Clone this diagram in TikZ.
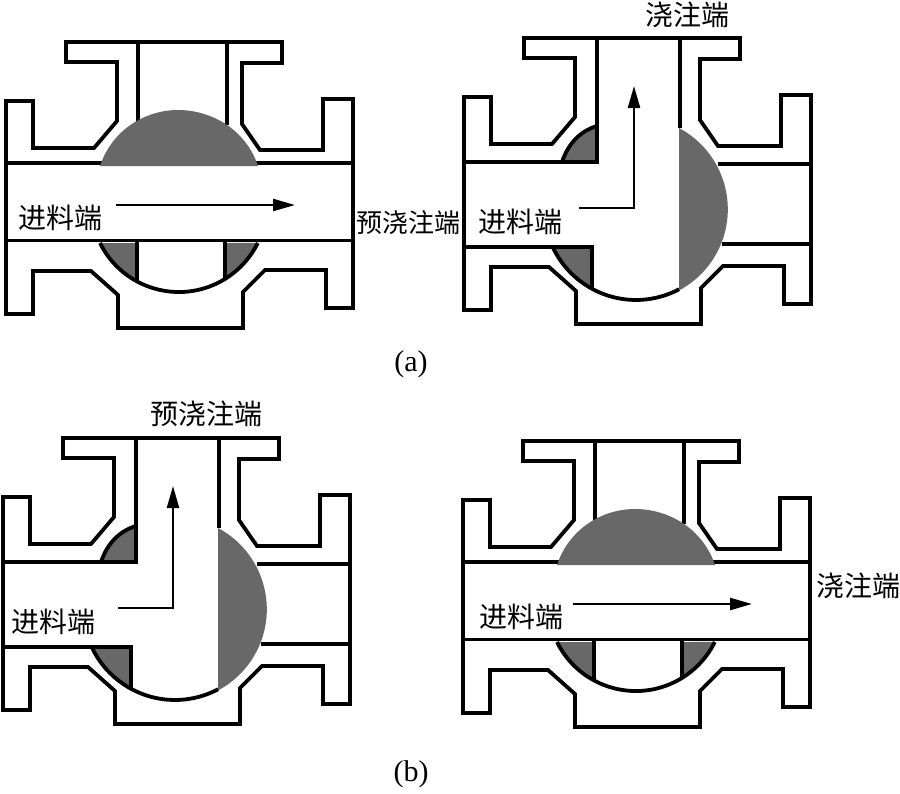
\documentclass[tikz,border=0pt]{standalone}
\usepackage{fontspec}
\setmainfont{Liberation Serif}
\newfontfamily\cjk{Noto Sans CJK SC}
\usetikzlibrary{arrows.meta}
\definecolor{ballgray}{HTML}{686868}

\newcommand{\valvebody}{
\draw[mainline] (66,42) -- (282,42) -- (282,63) -- (242,63) -- (242,124) -- (260,150) -- (323,150) -- (323,99) -- (353,99)
 -- (353,308) -- (326,308) -- (326,270) -- (265,270) -- (243,292) -- (243,328) -- (118,328) -- (118,295) -- (91,271)
 -- (33,271) -- (33,314) -- (6,314) -- (6,101) -- (33,101) -- (33,148) -- (94,148) -- (117,121) -- (117,62) -- (66,62) -- cycle;
}
\newcommand{\valvethrough}{
\fill[ballfill] (100,243) arc[start angle=153.7, end angle=118.5, radius=88] -- (137,243) -- cycle;
\fill[ballfill] (225,243) -- (225,279) arc[start angle=58.5, end angle=26.3, radius=88] -- cycle;
\draw[thinline] (138,42) -- (138,125);
\draw[thinline] (227,42) -- (227,125);
\draw[mainline] (6,163) -- (353,163);
\draw[mainline] (6,240.5) -- (353,240.5);
\draw[thinline] (137,240) -- (137,281);
\draw[thinline] (225,240) -- (225,279);
\draw[mainline] (100,243) arc[start angle=153.7, end angle=26.3, radius=88];
\fill[ballfill] (100,166) .. controls (112,130) and (145,110) .. (178,110) .. controls (212,110) and (246,130) .. (258,166) -- cycle;
\coordinate (flowstart) at (116,205);
\coordinate (flowend) at (295,205);
\draw[flowline] (flowstart) -- (flowend);
}
\newcommand{\valveturn}{
\fill[ballfill] (104,166) .. controls (110,148) and (122,135) .. (137,130) -- (137,166) -- cycle;
\fill[ballfill] (95.3,252.3) arc[start angle=154, end angle=118, radius=92] -- (134,251) -- cycle;
\draw[thinline] (222,42) -- (222,132);
\draw[thinline] (260,168) -- (353,168);
\draw[thinline] (264,248) -- (353,248);
\draw[mainline] (139,42) -- (139,166) -- (6,166);
\draw[mainline] (6,251) -- (134,251) -- (134,292);
\draw[mainline] (104,166) .. controls (110,148) and (122,135) .. (139,130);
\draw[mainline] (95.3,252.3) arc[start angle=154, end angle=62, radius=92];
\fill[ballfill] (221,132) arc[start angle=-62, end angle=62, radius=92] -- cycle;
\coordinate (flowstart) at (121,212);
\coordinate (flowcorner) at (176,212);
\coordinate (flowend) at (176,90);
\draw[flowline] (flowstart) -- (flowcorner) -- (flowend);
}

\begin{document}
\begin{tikzpicture}[
    x=1pt, y=-1pt,
    mainline/.style={draw=black, line width=3.8pt, miter limit=10},
    thinline/.style={draw=black, line width=3.2pt},
    flowline/.style={draw=black, line width=2.4pt, -{Triangle[length=22pt,width=12pt]}},
    ballfill/.style={fill=ballgray},
    portlabel/.style={inner sep=0pt, font=\fontsize{28}{28}\selectfont\cjk},
    smalllabel/.style={inner sep=0pt, font=\fontsize{26}{26}\selectfont\cjk},
    captionlabel/.style={inner sep=0pt, font=\fontsize{30}{30}\selectfont}
]
\useasboundingbox (0,0) rectangle (900,793);

\begin{scope}
\valvebody
\valvethrough
\end{scope}
\begin{scope}[shift={(458,-4)}]
\valvebody
\valveturn
\end{scope}
\begin{scope}[shift={(-3,396)}]
\valvebody
\valveturn
\end{scope}
\begin{scope}[shift={(457,399)}]
\valvebody
\valvethrough
\end{scope}

\node[portlabel](inlet1) at (60,218){进料端};
\node[portlabel](inlet2) at (520,222){进料端};
\node[portlabel](inlet3) at (54,622){进料端};
\node[portlabel](inlet4) at (521,617){进料端};
\node[portlabel](pour2) at (687,15){浇注端};
\node[portlabel](pour4) at (858,586){浇注端};
\node[smalllabel](prepour1) at (408,223){预浇注端};
\node[portlabel](prepour3) at (206,414){预浇注端};
\node[captionlabel](capa) at (411,364){(a)};
\node[captionlabel](capb) at (411,774){(b)};
\end{tikzpicture}
\end{document}
